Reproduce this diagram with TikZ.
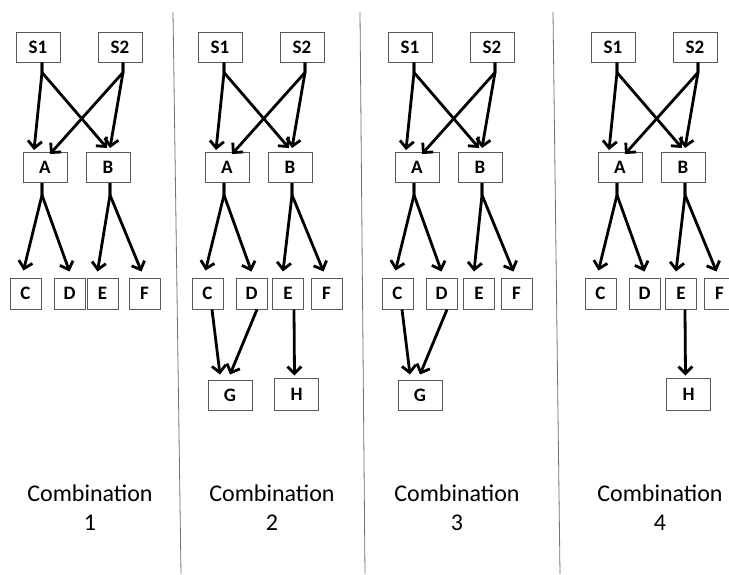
\documentclass[tikz,border=0pt]{standalone}
\usepackage{fontspec}
\setmainfont{Carlito}
\usetikzlibrary{arrows.meta}

\tikzset{
  box/.style={draw=black!65, line width=1pt, inner sep=0pt, font=\fontsize{19}{22}\selectfont\bfseries},
  wide/.style={box, minimum width=44pt, minimum height=30pt},
  small/.style={box, minimum width=31pt, minimum height=31pt},
  arr/.style={-{Straight Barb[length=7pt,width=14pt]}, line width=2.8pt, line join=round},
  divider/.style={draw=black!55, line width=0.8pt},
  caption/.style={font=\fontsize{24}{29}\selectfont, align=center, inner sep=0pt}
}

\begin{document}
\begin{tikzpicture}[x=1pt,y=-1pt]

\clip (0,0) rectangle (729,574);
\fill[white] (0,0) rectangle (729,574);

% Panel separators
\draw[divider] (173,12) -- (181,574);
\draw[divider] (360,12) -- (365,574);
\draw[divider] (553,12) -- (560,574);

% The common part of every combination
\foreach \dx/\n/\ex/\tx in {0/1/102.5/90, 182/2/106/90, 372/3/107/85, 575/4/106/85} {
  \begin{scope}[xshift=\dx pt, name prefix=p\n-]
    \node[wide] (S1) at (38,47) {S1};
    \node[wide] (S2) at (120,47) {S2};
    \node[wide] (A) at (45,167.5) {A};
    \node[wide] (B) at (108,167.5) {B};
    \node[small] (C) at (25.5,293.5) {C};
    \node[small] (D) at (69.5,293.5) {D};
    \node[small] (E) at (\ex,293.5) {E};
    \node[small] (F) at (144.5,293.5) {F};

    % Sources to A and B
    \draw[arr] ([xshift=4pt]S1.south) -- ++(0,10) -- ([xshift=-11pt,yshift=2pt]A.north);
    \draw[arr] ([xshift=4pt]S1.south) -- ++(0,10) -- ([xshift=-1pt,yshift=4pt]B.north);
    \draw[arr] ([xshift=3pt]S2.south) -- ++(0,10) -- ([xshift=5pt,yshift=-2pt]A.north);
    \draw[arr] ([xshift=3pt]S2.south) -- ++(0,10) -- ([xshift=2pt,yshift=4pt]B.north);

    % A and B to the third row
    \draw[arr] ([xshift=-3pt]A.south) -- ++(0,12) -- ([xshift=-2pt,yshift=7pt]C.north);
    \draw[arr] ([xshift=-3pt]A.south) -- ++(0,12) -- ([yshift=6pt]D.north);
    \draw[arr] ([xshift=2pt]B.south) -- ++(0,12) -- ([xshift=-5pt,yshift=6pt]E.north);
    \draw[arr] ([xshift=2pt]B.south) -- ++(0,12) -- ([xshift=-3pt,yshift=6pt]F.north);

    \node[caption] (title) at (\tx,508) {Combination\\\n};
  \end{scope}
}

% Combination 2: G and H
\begin{scope}[xshift=182pt, name prefix=p2-]
  \node[wide] (G) at (48,395) {G};
  \node[wide, minimum height=32pt] (H) at (114.5,394) {H};
  \draw[arr] ([xshift=4.5pt]C.south) -- ([xshift=-10pt,yshift=5pt]G.north);
  \draw[arr] ([xshift=5.5pt]D.south) -- ([yshift=5pt]G.north);
  \draw[arr] ([xshift=6pt]E.south) -- ([xshift=-2pt,yshift=2pt]H.north);
\end{scope}

% Combination 3: G only
\begin{scope}[xshift=372pt, name prefix=p3-]
  \node[wide] (G) at (48,395) {G};
  \draw[arr] ([xshift=4.5pt]C.south) -- ([xshift=-10pt,yshift=5pt]G.north);
  \draw[arr] ([xshift=5.5pt]D.south) -- ([yshift=5pt]G.north);
\end{scope}

% Combination 4: H only
\begin{scope}[xshift=575pt, name prefix=p4-]
  \node[wide, minimum height=32pt] (H) at (113.5,394) {H};
  \draw[arr] ([xshift=4pt]E.south) -- ([xshift=-3pt,yshift=2pt]H.north);
\end{scope}

\end{tikzpicture}
\end{document}
